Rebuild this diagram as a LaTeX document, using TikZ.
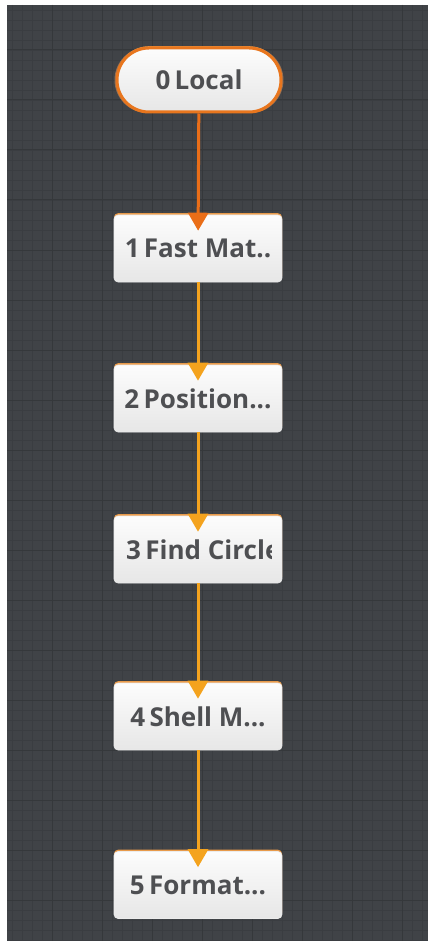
\documentclass[tikz,border=0pt]{standalone}
\usepackage{fontspec}
\setmainfont{Open Sans}
\usetikzlibrary{arrows.meta, positioning, shadows}
\definecolor{GridBack}{HTML}{404347}
\definecolor{GridMinor}{HTML}{3A3D41}
\definecolor{GridMajor}{HTML}{35383B}
\definecolor{BoxFill}{HTML}{F2F2F2}
\definecolor{BoxEdge}{HTML}{E89A4A}
\definecolor{StartEdge}{HTML}{E8761E}
\definecolor{FirstLink}{HTML}{EA6E18}
\definecolor{NextLink}{HTML}{F4A31E}
\definecolor{LabelGray}{HTML}{4E4F52}
\tikzset{
    % Step box style
    stepbox/.style={
        rectangle,
        rounded corners=4,
        draw=white!85!gray,
        line width=0.6,
        top color=white!98!gray,
        bottom color=BoxFill!90!gray,
        minimum width=168,
        minimum height=67,
        inner sep=0,
        text=LabelGray,
        font=\fontsize{26}{29}\selectfont\bfseries,
        drop shadow={shadow xshift=0, shadow yshift=-1.8, fill=BoxEdge, opacity=1}
    },
    % Start box style
    startbox/.style={
        stepbox,
        rounded corners=32,
        draw=StartEdge,
        line width=3,
        minimum width=164,
        minimum height=64,
        drop shadow={shadow xshift=0, shadow yshift=0, fill=StartEdge!70, opacity=0.5, shadow scale=1.03}
    },
    % Link style
    link/.style={
        line width=3,
        color=NextLink,
        -{Triangle[length=18, width=20]},
        shorten >=-16
    }
}
\begin{document}
\begin{tikzpicture}[x=1pt, y=-1pt]
        \useasboundingbox (0,0) rectangle (428,941);
        % Background grid
        \fill[white] (0,0) rectangle (428,941);
        \fill[GridBack] (7,5) rectangle (428,941);
        \foreach \gx in {12,22,...,422}
            \draw[GridMinor, line width=0.6] (\gx,5) -- (\gx,941);
        \foreach \gy in {10,20,...,940}
            \draw[GridMinor, line width=0.6] (7,\gy) -- (428,\gy);
        \foreach \gx in {52,102,...,402}
            \draw[GridMajor, line width=1] (\gx,5) -- (\gx,941);
        \foreach \gy in {50,100,...,900}
            \draw[GridMajor, line width=1] (7,\gy) -- (428,\gy);

        % Steps
        \node (n0) [startbox] at (199,80) {0\,Local};
        \node (n1) [stepbox] at (198,248.5) {1\,Fast Mat..};
        \node (n2) [stepbox] at (198,398.5) {2\,Position...};
        \node (n3) [stepbox, path picture={
            \clip ([xshift=-11]path picture bounding box.north east) rectangle (path picture bounding box.south west);
            \node[anchor=west, inner sep=0, text=LabelGray] at ([xshift=5]path picture bounding box.west) {3\,Find Circle};
        }] at (198,549.5) {};
        \node (n4) [stepbox] at (198,716.5) {4\,Shell M...};
        \node (n5) [stepbox] at (198,885) {5\,Format...};

        \draw [link, color=FirstLink] (n0) -- (n1);
        \draw [link] (n1) -- (n2);
        \draw [link] (n2) -- (n3);
        \draw [link] (n3) -- (n4);
        \draw [link] (n4) -- (n5);
    \end{tikzpicture}
\end{document}
